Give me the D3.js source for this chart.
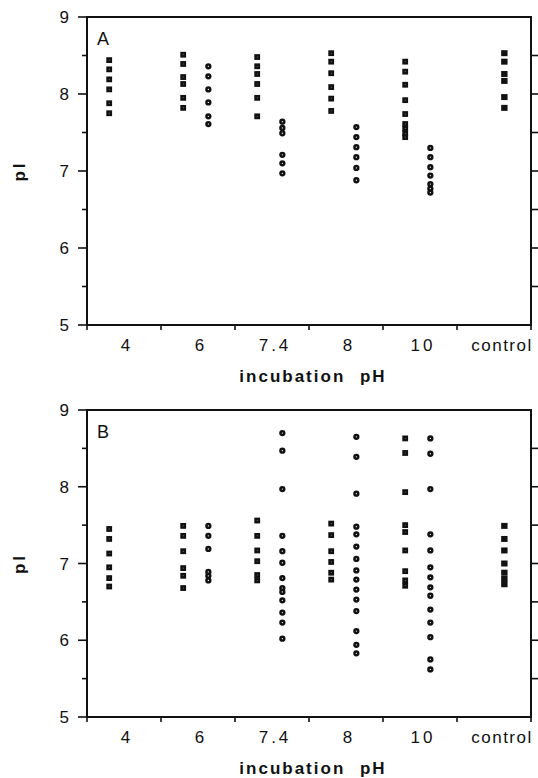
<!DOCTYPE html>
<html>
<head>
<meta charset="utf-8">
<script src="https://cdn.jsdelivr.net/npm/d3@7"></script>
<style>
  body { margin: 0; background: #fff; }
  svg { display: block; }
  text { font-family: "Liberation Sans", Arial, sans-serif; fill: #111; }
</style>
</head>
<body>
<div id="chart"></div>
<script>
// incubation pH groups along the x axis
var categories = ["4", "6", "7.4", "8", "10", "control"];
var yTicks = [5, 6, 7, 8, 9];

// panel A: pI values, one list per category
var aSquares = [
  [8.44, 8.32, 8.19, 8.06, 7.88, 7.75],
  [8.51, 8.39, 8.22, 8.13, 7.95, 7.82],
  [8.48, 8.36, 8.26, 8.13, 7.95, 7.71],
  [8.53, 8.42, 8.27, 8.09, 7.94, 7.78],
  [8.42, 8.29, 8.12, 7.92, 7.74, 7.61, 7.55, 7.49, 7.44],
  []
];
var aCircles = [
  [],
  [8.36, 8.23, 8.06, 7.89, 7.71, 7.61],
  [7.64, 7.56, 7.49, 7.21, 7.10, 6.97],
  [7.57, 7.44, 7.31, 7.18, 7.04, 6.88],
  [7.30, 7.18, 7.05, 6.94, 6.83, 6.77, 6.72],
  []
];
var aControl = [8.53, 8.42, 8.26, 8.17, 7.96, 7.82];

// panel B
var bSquares = [
  [7.45, 7.32, 7.13, 6.95, 6.81, 6.70],
  [7.49, 7.36, 7.16, 6.94, 6.84, 6.68],
  [7.56, 7.36, 7.17, 7.03, 6.85, 6.78],
  [7.52, 7.37, 7.16, 7.02, 6.88, 6.79],
  [8.63, 8.44, 7.93, 7.50, 7.41, 7.17, 6.90, 6.78, 6.71],
  []
];
var bCircles = [
  [],
  [7.49, 7.36, 7.19, 6.89, 6.84, 6.78],
  [8.70, 8.47, 7.97, 7.36, 7.16, 7.01, 6.81, 6.68, 6.63, 6.52, 6.36, 6.23, 6.02],
  [8.65, 8.39, 7.91, 7.48, 7.38, 7.22, 7.06, 6.91, 6.79, 6.66, 6.53, 6.38, 6.12, 5.94, 5.83],
  [8.63, 8.43, 7.97, 7.38, 7.17, 6.95, 6.82, 6.69, 6.58, 6.40, 6.23, 6.04, 5.75, 5.62],
  []
];
var bControl = [7.49, 7.32, 7.17, 7.00, 6.88, 6.80, 6.73];

var width = 538, height = 778;
var svg = d3.select("#chart").append("svg")
  .attr("width", width)
  .attr("height", height);

var plotLeft = 87, plotRight = 531;
var squareOffset = 0.3, circleOffset = 0.64;

var x = d3.scaleBand()
  .domain(categories)
  .range([plotLeft, plotRight])
  .paddingInner(0)
  .paddingOuter(0);

function drawPanel(top, bottom, letter, squares, circles, control) {
  var y = d3.scaleLinear().domain([5, 9]).range([bottom, top]);
  var g = svg.append("g");

  // frame
  g.append("rect")
    .attr("x", plotLeft)
    .attr("y", top)
    .attr("width", plotRight - plotLeft)
    .attr("height", bottom - top)
    .attr("fill", "none")
    .attr("stroke", "#111")
    .attr("stroke-width", 2);

  // left axis: labelled integer ticks, short half ticks
  var halfTicks = d3.range(5, 9.01, 0.5);
  g.selectAll(".ltick").data(halfTicks).enter()
    .append("line")
    .attr("x1", plotLeft)
    .attr("x2", d => plotLeft - (d % 1 === 0 ? 9 : 5))
    .attr("y1", d => y(d))
    .attr("y2", d => y(d))
    .attr("stroke", "#111")
    .attr("stroke-width", 1.6);

  g.selectAll(".ylab").data(yTicks).enter()
    .append("text")
    .attr("x", plotLeft - 18)
    .attr("y", d => y(d) + 6)
    .attr("text-anchor", "end")
    .style("font-size", "17px")
    .text(d => d);

  // right axis ticks point outwards
  g.selectAll(".rtick").data(halfTicks.filter(d => d > 5 && d < 9)).enter()
    .append("line")
    .attr("x1", plotRight)
    .attr("x2", plotRight + 7)
    .attr("y1", d => y(d))
    .attr("y2", d => y(d))
    .attr("stroke", "#111")
    .attr("stroke-width", 1.6);

  // bottom ticks at group boundaries
  var bounds = categories.map(c => x(c)).concat([plotRight]);
  g.selectAll(".btick").data(bounds).enter()
    .append("line")
    .attr("x1", d => d)
    .attr("x2", d => d)
    .attr("y1", bottom)
    .attr("y2", bottom + 5)
    .attr("stroke", "#111")
    .attr("stroke-width", 1.6);

  g.selectAll(".xlab").data(categories).enter()
    .append("text")
    .attr("x", d => x(d) + x.bandwidth() / 2 + (d === "control" ? 8 : 3))
    .attr("y", bottom + 26)
    .attr("text-anchor", "middle")
    .style("font-size", "17px")
    .style("letter-spacing", d => d === "control" ? "1.5px" : "3px")
    .text(d => d);

  g.append("text")
    .attr("x", (plotLeft + plotRight) / 2 + 4)
    .attr("y", bottom + 57)
    .attr("text-anchor", "middle")
    .style("font-size", "17px")
    .style("font-weight", "bold")
    .style("letter-spacing", "2px")
    .style("word-spacing", "8px")
    .text("incubation pH");

  g.append("text")
    .attr("transform", `translate(25, ${(top + bottom) / 2}) rotate(-90)`)
    .attr("text-anchor", "middle")
    .style("font-size", "17px")
    .style("font-weight", "bold")
    .style("letter-spacing", "3px")
    .text("pI");

  g.append("text")
    .attr("x", plotLeft + 10)
    .attr("y", top + 28)
    .style("font-size", "18px")
    .text(letter);

  // points
  var sqPts = [], cPts = [], ctlPts = [];
  categories.forEach((c, i) => {
    squares[i].forEach(v => sqPts.push({ c: c, v: v }));
    circles[i].forEach(v => cPts.push({ c: c, v: v }));
  });
  control.forEach(v => ctlPts.push({ c: "control", v: v }));

  var s = 3.2;
  g.selectAll(".sq").data(sqPts).enter()
    .append("rect")
    .attr("x", d => x(d.c) + x.bandwidth() * squareOffset - s / 2)
    .attr("y", d => y(d.v) - s / 2)
    .attr("width", s)
    .attr("height", s)
    .attr("fill", "#fff")
    .attr("stroke", "#111")
    .attr("stroke-width", 2.6);

  g.selectAll(".ci").data(cPts).enter()
    .append("circle")
    .attr("cx", d => x(d.c) + x.bandwidth() * circleOffset)
    .attr("cy", d => y(d.v))
    .attr("r", 1.9)
    .attr("fill", "#fff")
    .attr("stroke", "#111")
    .attr("stroke-width", 2.5);

  g.selectAll(".ctl").data(ctlPts).enter()
    .append("rect")
    .attr("x", d => x(d.c) + x.bandwidth() * circleOffset - 3.2)
    .attr("y", d => y(d.v) - 3)
    .attr("width", 6.4)
    .attr("height", 6)
    .attr("fill", "#111");
}

drawPanel(17, 325, "A", aSquares, aCircles, aControl);
drawPanel(410, 717, "B", bSquares, bCircles, bControl);
</script>
</body>
</html>
